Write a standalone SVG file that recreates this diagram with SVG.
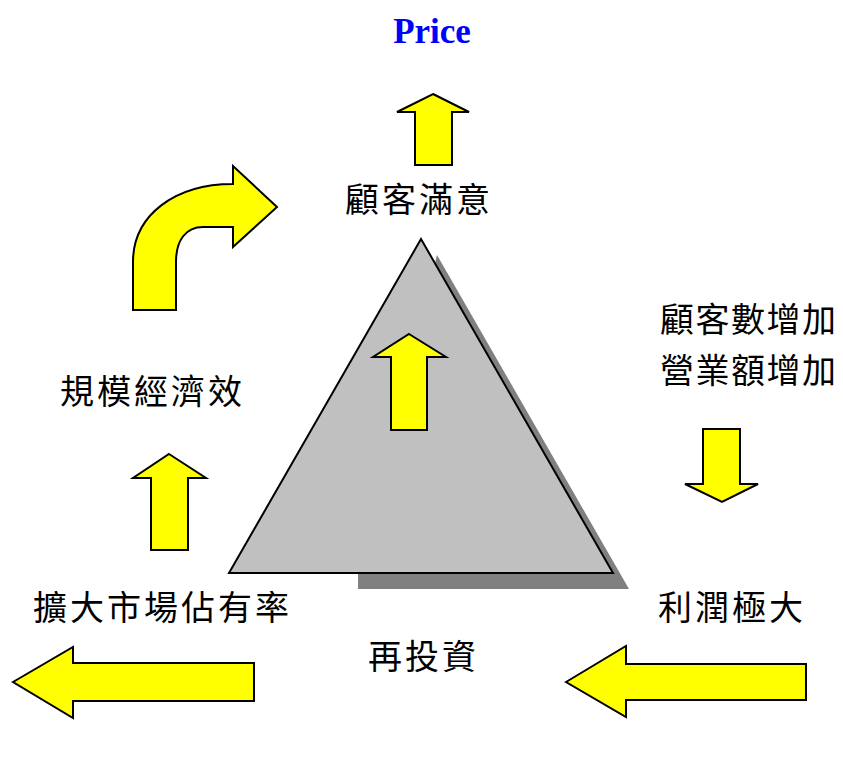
<svg xmlns="http://www.w3.org/2000/svg" width="843" height="771" viewBox="0 0 843 771">
<style>
.arrow{fill:#FFFF00;stroke:#000;stroke-width:2;stroke-linejoin:miter}
.lbl{font-family:"Liberation Serif","Noto Sans CJK TC",serif;font-size:34px;letter-spacing:3px;fill:#000}
.tight{letter-spacing:1.5px}
.title{font-family:"Liberation Serif",serif;font-size:35px;font-weight:bold;fill:#0000FF}
</style>
<rect width="843" height="771" fill="#fff"/>
<g id="title"><text class="title" x="432" y="43" text-anchor="middle">Price</text></g>
<g id="pyramid">
<polygon points="437,255 629,589 358,589 358,573" fill="#808080"/>
<polygon points="421,239 613,573 229,573" fill="#C0C0C0" stroke="#000" stroke-width="2"/>
</g>
<g id="connectors">
<polygon id="arrow-top" class="arrow" points="433,94 469,112 452,112 452,165 415,165 415,112 397,112"/>
<polygon id="arrow-inner" class="arrow" points="409,334 446,357 427,357 427,430 391,430 391,357 373,357"/>
<polygon id="arrow-left-up" class="arrow" points="169,454 206,478 188,478 188,550 151,550 151,478 133,478"/>
<path id="arrow-curve" class="arrow" d="M133,310 L133,262 C133,215 175,184 233,184 L233,166 L277,207 L233,247 L233,227 L203,227 C186,227 176,240 176,262 L176,310 Z"/>
<polygon id="arrow-down" class="arrow" points="703,429 740,429 740,484 758,484 722,502 685,484 703,484"/>
<polygon id="arrow-bottom-right" class="arrow" points="566,682 626,646 626,664 806,664 806,700 626,700 626,717"/>
<polygon id="arrow-bottom-left" class="arrow" points="13,682 73,647 73,663 254,663 254,701 73,701 73,718"/>
</g>
<g id="node-satisfaction"><text class="lbl" x="345" y="212">顧客滿意</text></g>
<g id="node-customers"><text class="lbl tight" x="660" y="332">顧客數增加</text><text class="lbl tight" x="660" y="383">營業額增加</text></g>
<g id="node-scale"><text class="lbl" x="60" y="404">規模經濟效</text></g>
<g id="node-share"><text class="lbl" x="33" y="620">擴大市場佔有率</text></g>
<g id="node-profit"><text class="lbl" x="658" y="620">利潤極大</text></g>
<g id="node-reinvest"><text class="lbl" x="368" y="669">再投資</text></g>
</svg>
